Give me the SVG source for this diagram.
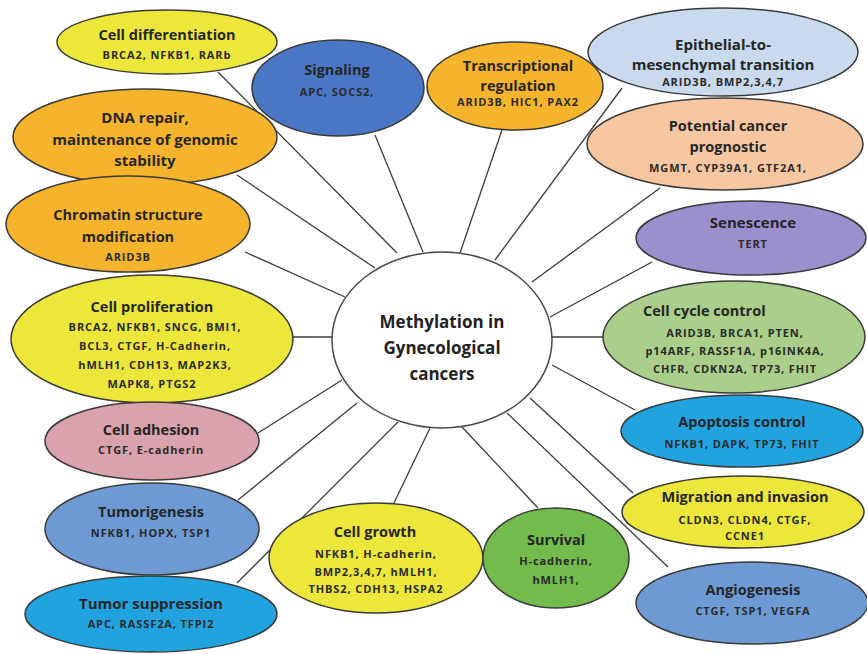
<svg xmlns="http://www.w3.org/2000/svg" width="867" height="654" viewBox="0 0 867 654">
<style>
.n{stroke:#3a3a3a;stroke-width:1.5}
.t{font-family:"Open Sans",Lato,"DejaVu Sans",sans-serif;font-weight:bold;font-size:14.5px;fill:#262626;text-anchor:middle}
.g{font-family:"Open Sans",Lato,"DejaVu Sans",sans-serif;font-weight:bold;font-size:11px;fill:#2b2b2b;text-anchor:middle;letter-spacing:0.9px}
.c{font-family:"Open Sans",Lato,"DejaVu Sans",sans-serif;font-weight:bold;font-size:17px;fill:#222;text-anchor:middle}
.l{stroke:#3c3c3c;stroke-width:1.3;fill:none}
.yel{fill:#EDE73C}.org{fill:#F6B42C}.blu{fill:#4A76C6}.lbl{fill:#C9D9EE}.pch{fill:#F7C7A2}
.pur{fill:#9C8FCD}.grn{fill:#A9CF8A}.pnk{fill:#D9A2AD}.cya{fill:#21A3E0}.mbl{fill:#6E9AD4}.dgr{fill:#72BB4C}
</style>
<rect width="867" height="654" fill="#ffffff"/>
<g id="connectors">
<line class="l" x1="218" y1="72" x2="397" y2="253"/>
<line class="l" x1="375" y1="135" x2="423" y2="252"/>
<line class="l" x1="237" y1="175" x2="375" y2="268"/>
<line class="l" x1="502" y1="130" x2="460" y2="253"/>
<line class="l" x1="622" y1="88" x2="495" y2="260"/>
<line class="l" x1="660" y1="188" x2="532" y2="282"/>
<line class="l" x1="652" y1="262" x2="550" y2="317"/>
<line class="l" x1="245" y1="252" x2="345" y2="297"/>
<line class="l" x1="293" y1="337" x2="332" y2="337"/>
<line class="l" x1="552" y1="337" x2="603" y2="337"/>
<line class="l" x1="258" y1="433" x2="342" y2="380"/>
<line class="l" x1="552" y1="365" x2="635" y2="410"/>
<line class="l" x1="238" y1="500" x2="357" y2="403"/>
<line class="l" x1="633" y1="493" x2="530" y2="398"/>
<line class="l" x1="237" y1="583" x2="398" y2="422"/>
<line class="l" x1="393" y1="505" x2="430" y2="428"/>
<line class="l" x1="538" y1="508" x2="462" y2="427"/>
<line class="l" x1="668" y1="567" x2="507" y2="413"/>
</g>
<g id="center">
<ellipse cx="442" cy="340" rx="110" ry="88" fill="#ffffff" stroke="#4a4a4a" stroke-width="1.5"/>
<text class="c" x="442" y="328">Methylation in</text>
<text class="c" x="442" y="354">Gynecological</text>
<text class="c" x="442" y="380">cancers</text>
</g>
<g id="cell-differentiation">
<ellipse class="n yel" cx="167" cy="42" rx="110" ry="32"/>
<text class="t" x="167" y="40">Cell differentiation</text>
<text class="g" x="167" y="59">BRCA2, NFKB1, RARb</text>
</g>
<g id="dna-repair">
<ellipse class="n org" cx="145" cy="137" rx="132" ry="48"/>
<text class="t" x="145" y="123" style="font-size:15px">DNA repair,</text>
<text class="t" x="145" y="145" style="font-size:15px">maintenance of genomic</text>
<text class="t" x="145" y="166" style="font-size:15px">stability</text>
</g>
<g id="signaling">
<ellipse class="n blu" cx="338" cy="88" rx="86" ry="48"/>
<text class="t" x="337" y="75">Signaling</text>
<text class="g" x="337" y="96">APC, SOCS2,</text>
</g>
<g id="epithelial-mesenchymal">
<ellipse class="n lbl" cx="723" cy="52" rx="135" ry="44"/>
<text class="t" x="723" y="50" style="font-size:15px">Epithelial-to-</text>
<text class="t" x="723" y="70" style="font-size:15px">mesenchymal transition</text>
<text class="g" x="723" y="86">ARID3B, BMP2,3,4,7</text>
</g>
<g id="transcriptional-regulation">
<ellipse class="n org" cx="515" cy="86" rx="88" ry="44"/>
<text class="t" x="518" y="71">Transcriptional</text>
<text class="t" x="518" y="91">regulation</text>
<text class="g" x="518" y="106">ARID3B, HIC1, PAX2</text>
</g>
<g id="potential-cancer-prognostic">
<ellipse class="n pch" cx="725" cy="144" rx="138" ry="46"/>
<text class="t" x="728" y="131">Potential cancer</text>
<text class="t" x="728" y="152">prognostic</text>
<text class="g" x="728" y="172">MGMT, CYP39A1, GTF2A1,</text>
</g>
<g id="chromatin-structure">
<ellipse class="n org" cx="128" cy="224" rx="122" ry="48"/>
<text class="t" x="128" y="220">Chromatin structure</text>
<text class="t" x="128" y="242">modification</text>
<text class="g" x="128" y="261">ARID3B</text>
</g>
<g id="senescence">
<ellipse class="n pur" cx="751" cy="238" rx="115" ry="37"/>
<text class="t" x="753" y="228" style="font-size:15px">Senescence</text>
<text class="g" x="753" y="248">TERT</text>
</g>
<g id="cell-proliferation">
<ellipse class="n yel" cx="152" cy="339" rx="141" ry="64"/>
<text class="t" x="152" y="312">Cell proliferation</text>
<text class="g" x="155" y="331">BRCA2, NFKB1, SNCG, BMI1,</text>
<text class="g" x="155" y="350">BCL3, CTGF, H-Cadherin,</text>
<text class="g" x="155" y="369">hMLH1, CDH13, MAP2K3,</text>
<text class="g" x="152" y="388">MAPK8, PTGS2</text>
</g>
<g id="cell-cycle-control">
<ellipse class="n grn" cx="734" cy="337" rx="131" ry="56"/>
<text class="t" x="643" y="316" style="text-anchor:start">Cell cycle control</text>
<text class="g" x="735" y="337">ARID3B, BRCA1, PTEN,</text>
<text class="g" x="735" y="355">p14ARF, RASSF1A, p16INK4A,</text>
<text class="g" x="735" y="373">CHFR, CDKN2A, TP73, FHIT</text>
</g>
<g id="cell-adhesion">
<ellipse class="n pnk" cx="152" cy="441" rx="107" ry="39"/>
<text class="t" x="151" y="435">Cell adhesion</text>
<text class="g" x="151" y="454">CTGF, E-cadherin</text>
</g>
<g id="apoptosis-control">
<ellipse class="n cya" cx="742" cy="431" rx="121" ry="36"/>
<text class="t" x="742" y="427">Apoptosis control</text>
<text class="g" x="742" y="448">NFKB1, DAPK, TP73, FHIT</text>
</g>
<g id="tumorigenesis">
<ellipse class="n mbl" cx="152" cy="529" rx="107" ry="46"/>
<text class="t" x="151" y="517">Tumorigenesis</text>
<text class="g" x="151" y="537">NFKB1, HOPX, TSP1</text>
</g>
<g id="migration-invasion">
<ellipse class="n yel" cx="743" cy="512" rx="121" ry="36"/>
<text class="t" x="745" y="502">Migration and invasion</text>
<text class="g" x="745" y="524">CLDN3, CLDN4, CTGF,</text>
<text class="g" x="745" y="540">CCNE1</text>
</g>
<g id="tumor-suppression">
<ellipse class="n cya" cx="151" cy="614" rx="126" ry="38"/>
<text class="t" x="151" y="609" style="font-size:15px">Tumor suppression</text>
<text class="g" x="151" y="628">APC, RASSF2A, TFPI2</text>
</g>
<g id="cell-growth">
<ellipse class="n yel" cx="376" cy="558" rx="107" ry="55"/>
<text class="t" x="375" y="537">Cell growth</text>
<text class="g" x="376" y="558">NFKB1, H-cadherin,</text>
<text class="g" x="376" y="576">BMP2,3,4,7, hMLH1,</text>
<text class="g" x="376" y="593">THBS2, CDH13, HSPA2</text>
</g>
<g id="survival">
<ellipse class="n dgr" cx="556" cy="558" rx="73" ry="50"/>
<text class="t" x="556" y="545">Survival</text>
<text class="g" x="556" y="565">H-cadherin,</text>
<text class="g" x="556" y="584">hMLH1,</text>
</g>
<g id="angiogenesis">
<ellipse class="n mbl" cx="752" cy="603" rx="116" ry="41"/>
<text class="t" x="753" y="595">Angiogenesis</text>
<text class="g" x="753" y="615">CTGF, TSP1, VEGFA</text>
</g>
</svg>
